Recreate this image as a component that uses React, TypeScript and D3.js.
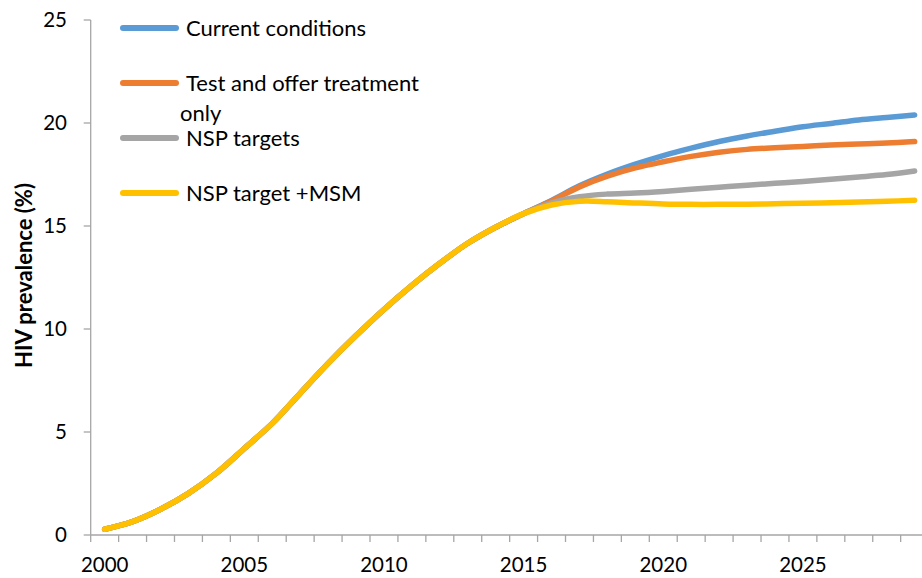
import React from "react";
import * as d3 from "d3";

const years = d3.range(2000, 2030);
const xTickLabels = [2000, 2005, 2010, 2015, 2020, 2025];
const yTicks = [0, 5, 10, 15, 20, 25];

const shared = [0.28, 0.65, 1.25, 2.02, 3.0, 4.2, 5.42, 6.88, 8.33, 9.68, 10.95, 12.12, 13.19, 14.16, 14.94, 15.6];

const current = [...shared, 16.24, 16.95, 17.52, 18.0, 18.42, 18.78, 19.1, 19.37, 19.6, 19.82, 19.98, 20.15, 20.27, 20.39];
const testTreat = [...shared, 16.22, 16.9, 17.42, 17.82, 18.12, 18.38, 18.58, 18.72, 18.8, 18.86, 18.93, 18.98, 19.03, 19.1];
const nspTargets = [...shared, 16.12, 16.42, 16.55, 16.6, 16.68, 16.78, 16.88, 16.98, 17.07, 17.16, 17.27, 17.38, 17.5, 17.67];
const nspMsm = [...shared, 16.02, 16.2, 16.18, 16.12, 16.07, 16.05, 16.05, 16.06, 16.08, 16.1, 16.13, 16.16, 16.2, 16.25];

const seriesNames = ["Current conditions", "Test and offer treatment", "NSP targets", "NSP target +MSM"];
const seriesColors = ["#5B9BD5", "#ED7D31", "#A5A5A5", "#FFC000"];
const seriesData = [current, testTreat, nspTargets, nspMsm];

export default function App() {
  const W = 922, H = 578;
  const x0 = 90.7, step = 27.93;
  const x = d3.scaleBand<number>().domain(years).range([x0, x0 + step * years.length]).padding(0);
  const y = d3.scaleLinear().domain([0, 25]).range([535, 20]);
  const cx = (yr: number) => (x(yr) as number) + x.bandwidth() / 2;
  const line = d3.line<number>().x((_, i) => cx(years[i])).y((v) => y(v)).curve(d3.curveCatmullRom.alpha(0.5));
  const font = "Lato, 'Open Sans', sans-serif";
  const axisColor = "#A6A6A6";
  const legendY = [28, 83, 138, 193];

  return (
    <svg width={W} height={H} style={{ position: "absolute", left: 0, top: 0, background: "#fff" }} fontFamily={font}>
      {/* y axis */}
      <line x1={x0} x2={x0} y1={y(25)} y2={y(0)} stroke={axisColor} strokeWidth={1.3} />
      {yTicks.map((t) => (
        <g key={t}>
          <line x1={x0 - 7} x2={x0} y1={y(t)} y2={y(t)} stroke={axisColor} strokeWidth={1.3} />
          <text x={67} y={y(t)} dy="0.35em" textAnchor="end" fontSize={20.5} fill="#000">{t}</text>
        </g>
      ))}
      {/* x axis */}
      <line x1={x0} x2={W} y1={y(0)} y2={y(0)} stroke={axisColor} strokeWidth={1.3} />
      {years.map((yr) => (
        <line key={yr} x1={x(yr) as number} x2={x(yr) as number} y1={y(0)} y2={y(0) + 7} stroke={axisColor} strokeWidth={1.3} />
      ))}
      {xTickLabels.map((yr) => (
        <text key={yr} x={cx(yr)} y={572} textAnchor="middle" fontSize={20.5} fill="#000">{yr}</text>
      ))}
      {/* y title */}
      <text transform={`translate(32, ${y(12.5) - 2}) rotate(-90)`} textAnchor="middle" fontSize={22} fontWeight="bold" fill="#000">HIV prevalence (%)</text>
      {/* lines */}
      {seriesData.map((d, i) => (
        <path key={i} d={line(d) || ""} fill="none" stroke={seriesColors[i]} strokeWidth={5.5} strokeLinecap="round" strokeLinejoin="round" />
      ))}
      {/* legend */}
      {seriesNames.map((n, i) => (
        <g key={n}>
          <line x1={123} x2={176} y1={legendY[i]} y2={legendY[i]} stroke={seriesColors[i]} strokeWidth={6} strokeLinecap="round" />
          <text x={186} y={legendY[i]} dy="0.35em" fontSize={22} fill="#000">{n}</text>
        </g>
      ))}
      <text x={180} y={113} dy="0.35em" fontSize={22} fill="#000">only</text>
    </svg>
  );
}
